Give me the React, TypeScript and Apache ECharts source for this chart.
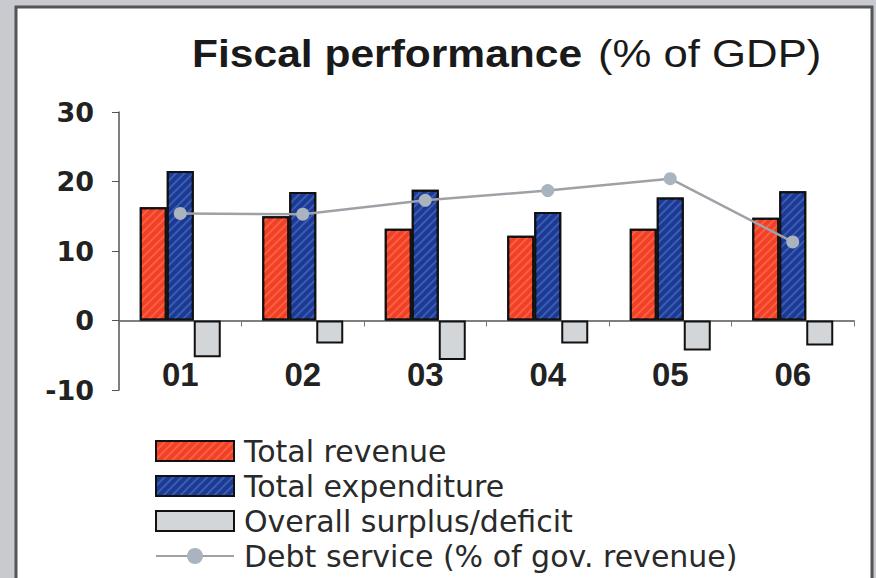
import React, { useEffect, useRef } from "react";
import * as echarts from "echarts";

const categories = ["01", "02", "03", "04", "05", "06"];
const totalRevenue = [16.3, 15.0, 13.2, 12.2, 13.2, 14.8];
const totalExpenditure = [21.5, 18.5, 18.8, 15.6, 17.7, 18.6];
const surplusDeficit = [-5.3, -3.3, -5.7, -3.3, -4.3, -3.6];
const debtService = [15.4, 15.3, 17.3, 18.7, 20.4, 11.3];
const yTicks = { min: -10, max: 30, interval: 10 };

const hatch = (c: string) => ({
  symbol: "rect",
  symbolSize: 1,
  dashArrayX: [1, 0],
  dashArrayY: [2, 4],
  rotation: -Math.PI / 4,
  color: c,
});

export default function App() {
  const ref = useRef<HTMLDivElement>(null);
  useEffect(() => {
    document.body.style.margin = "0";
    const chart = echarts.init(ref.current!, null, { renderer: "svg" });
    const barBorder = { borderColor: "#111", borderWidth: 2 };
    chart.setOption({
      animation: false,
      backgroundColor: "#c9c9d0",
      graphic: [
        {
          type: "rect",
          shape: { x: 16, y: 7, width: 856, height: 580 },
          style: { fill: "#ffffff", stroke: "#555", lineWidth: 3 },
          z: -10,
        },
        {
          type: "text",
          x: 192,
          y: 35,
          scaleX: 1.12,
          style: {
            text: "Fiscal performance",
            verticalAlign: "top",
            fontFamily: "Liberation Sans, Arial",
            fontWeight: "bold",
            fontSize: 38,
            fill: "#1a1a1a",
          },
        },
        {
          type: "text",
          x: 598,
          y: 35,
          scaleX: 1.15,
          style: {
            text: "(% of GDP)",
            verticalAlign: "top",
            fontFamily: "Liberation Sans, Arial",
            fontSize: 38,
            fill: "#1a1a1a",
          },
        },
      ],
      grid: { left: 119, right: 22, top: 112, bottom: 188, containLabel: false },
      legend: {
        orient: "vertical",
        left: 155,
        top: 436,
        height: 200,
        padding: 0,
        itemWidth: 78,
        itemHeight: 20,
        itemGap: 5,
        textStyle: {
          fontFamily: "DejaVu Sans",
          fontSize: 30,
          color: "#2a2a2a",
          lineHeight: 20,
          padding: [0, 0, 0, 5],
        },
        data: [
          { name: "Total revenue", icon: "rect" },
          { name: "Total expenditure", icon: "rect" },
          { name: "Overall surplus/deficit", icon: "rect" },
          { name: "Debt service (% of gov. revenue)" },
        ],
      },
      xAxis: {
        type: "category",
        data: categories,
        axisLine: { onZero: true, lineStyle: { color: "#555", width: 1.5 } },
        axisTick: { show: true, length: 6, lineStyle: { color: "#777" } },
        axisLabel: {
          margin: -32,
          fontFamily: "Liberation Sans, Arial",
          fontWeight: "bold",
          fontSize: 33,
          color: "#222",
        },
        splitLine: { show: false },
      },
      yAxis: {
        type: "value",
        min: yTicks.min,
        max: yTicks.max,
        interval: yTicks.interval,
        axisLine: { show: true, lineStyle: { color: "#555", width: 1.5 } },
        axisTick: { show: true, length: 7, lineStyle: { color: "#555" } },
        axisLabel: {
          margin: 25,
          fontFamily: "DejaVu Sans",
          fontWeight: "bold",
          fontSize: 27,
          color: "#222",
        },
        splitLine: { show: false },
      },
      series: [
        {
          name: "Total revenue",
          type: "bar",
          data: totalRevenue,
          barWidth: 27,
          barGap: "0%",
          itemStyle: { color: "#f23f26", ...barBorder, decal: hatch("rgba(255,160,120,0.35)") },
        },
        {
          name: "Total expenditure",
          type: "bar",
          data: totalExpenditure,
          barWidth: 27,
          barGap: "0%",
          itemStyle: { color: "#1b3a94", ...barBorder, decal: hatch("rgba(120,150,230,0.35)") },
        },
        {
          name: "Overall surplus/deficit",
          type: "bar",
          data: surplusDeficit,
          barWidth: 27,
          barGap: "0%",
          itemStyle: { color: "#d3d6d9", ...barBorder },
        },
        {
          name: "Debt service (% of gov. revenue)",
          type: "line",
          data: debtService,
          symbol: "circle",
          symbolSize: 13,
          lineStyle: { color: "#9ea2a7", width: 2.5 },
          itemStyle: { color: "#aab4be" },
          z: 5,
        },
      ],
    });
    return () => chart.dispose();
  }, []);
  return <div ref={ref} style={{ width: 876, height: 578 }} />;
}
